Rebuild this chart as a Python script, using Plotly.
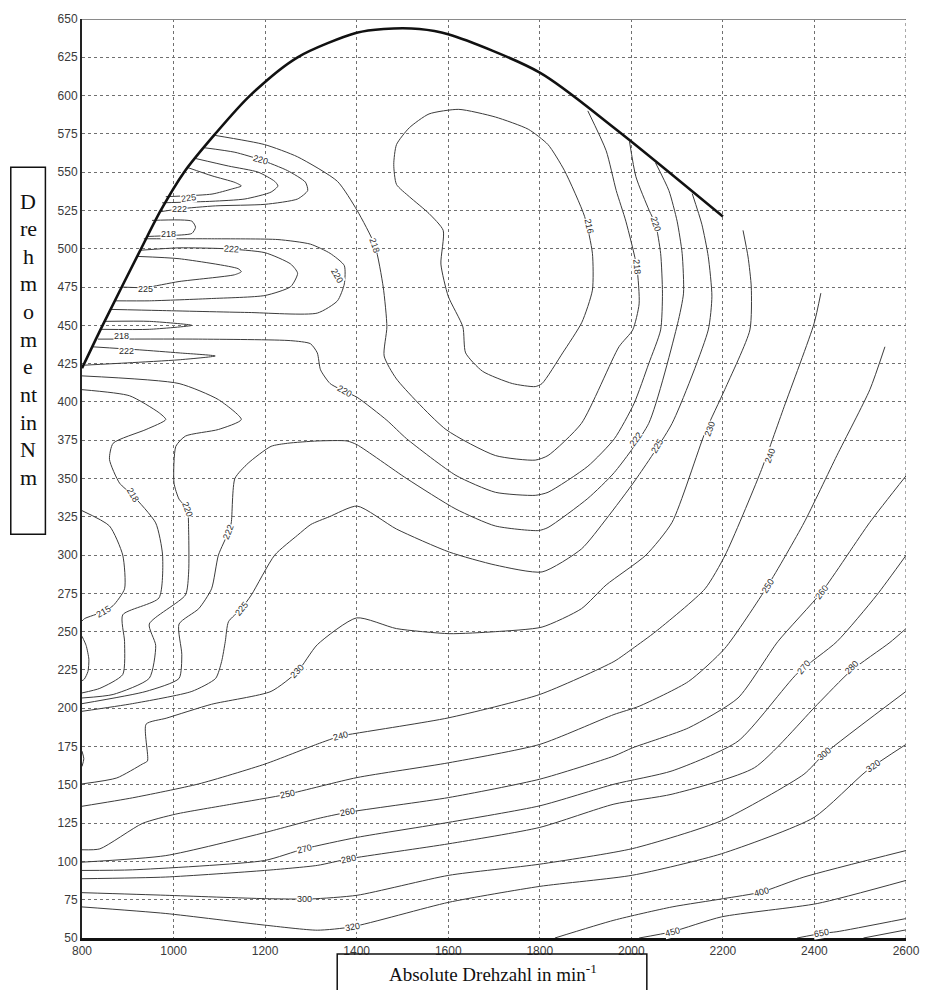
import plotly.graph_objects as go

# ---------------------------------------------------------------- axes data
speed_ticks = [800, 1000, 1200, 1400, 1600, 1800, 2000, 2200, 2400, 2600]
torque_ticks = list(range(50, 651, 25))

# ---------------------------------------------------------------- full-load torque curve
full_load_rpm = [800, 845, 929, 972, 1023, 1091, 1167, 1271, 1400, 1459, 1537, 1600, 1800, 1962, 2200]
full_load_nm = [422, 450, 500, 525, 550, 575, 600, 625, 641, 643.5, 643.5, 640, 615, 579, 521]

# ---------------------------------------------------------------- BSFC iso-lines (g/kWh)
bsfc216_rpm = [1623, 1558, 1515, 1487, 1481, 1487, 1515, 1558, 1589, 1584, 1600, 1632, 1638, 1675, 1740,
               1790, 1805, 1850, 1892, 1915, 1915, 1898, 1854, 1818, 1775, 1703, 1623]
bsfc216_nm = [591, 588, 579, 568, 555, 542, 534, 523, 512, 490, 469, 449, 432, 420, 412,
              410, 412, 432, 452, 473, 497, 521, 551, 568, 578, 586, 591]

bsfc218_rpm = [1091, 1199, 1271, 1358, 1401, 1440, 1458, 1466, 1460, 1487, 1595, 1703, 1790, 1818, 1891,
               1973, 2003, 2017, 2012, 1988, 1967, 1945, 1905]
bsfc218_nm = [574, 568, 560, 544, 525, 502, 475, 449, 430, 415, 382, 365, 362, 365, 386,
              436, 447, 464, 488, 518, 538, 564, 590]

bsfc220_rpm = [835, 1055, 1256, 1299, 1314, 1321, 1342, 1373, 1401, 1466, 1509, 1617, 1703, 1790, 1818,
               1905, 1963, 2006, 2038, 2064, 2068, 2064, 2053, 2039, 2010, 1996]
bsfc220_nm = [441, 441, 440, 438, 432, 421, 412, 407, 403, 388, 376, 352, 341, 339, 341,
              358, 376, 399, 425, 447, 471, 497, 516, 525, 547, 570]

bsfc222_rpm = [800, 940, 1012, 1018, 1012, 1055, 1083, 1098, 1120, 1126, 1134, 1163, 1213, 1249, 1314,
               1379, 1401, 1509, 1617, 1703, 1797, 1818, 1905, 1963, 2038, 2101, 2114, 2111, 2100, 2082, 2053]
bsfc222_nm = [203, 211, 219.5, 235, 255, 265, 278, 300, 315, 321, 350, 360, 371, 373, 374.5,
              374.5, 372, 350, 330, 319, 316, 318, 337, 354, 386, 451, 471, 497, 518, 538, 556]

bsfc225_rpm = [800, 910, 1040, 1092, 1105, 1113, 1120, 1148, 1170, 1221, 1271, 1300, 1340, 1401, 1487,
               1602, 1703, 1805, 1891, 1945, 2010, 2089, 2168, 2176, 2168, 2154, 2133]
bsfc225_nm = [198, 203, 211, 219.5, 230.5, 243.5, 256.5, 265, 274, 300, 313, 320, 325, 332, 317,
              302, 293.5, 289, 304, 323.5, 349.5, 386, 447, 469, 495, 516, 536]

bsfc230_rpm = [800, 876, 932, 943, 940, 984, 1083, 1213, 1271, 1314, 1400, 1487, 1602, 1703, 1805,
               1891, 1945, 2032, 2089, 2161, 2204, 2259, 2262, 2255, 2244]
bsfc230_nm = [150.6, 154.5, 163.6, 165.6, 189.6, 193.5, 202.6, 211, 224, 241.5, 259, 252, 248.7, 250, 253,
              265, 280.5, 300, 321.4, 380, 408, 447, 475, 494.6, 512]

bsfc240_rpm = [800, 910, 1055, 1200, 1314, 1364, 1400, 1600, 1800, 1962, 2003, 2053, 2161, 2205, 2282,
               2334, 2399, 2414]
bsfc240_nm = [136, 141.5, 150.6, 163.6, 176.6, 181.8, 183.7, 193.7, 209, 230.5, 239, 250, 278, 300, 354,
              397, 451, 471]

bsfc250_rpm = [800, 839, 932, 1005, 1127, 1249, 1400, 1601, 1800, 1962, 2017, 2125, 2204, 2298, 2377,
               2449, 2521, 2554]
bsfc250_nm = [107.6, 108.2, 124.8, 130.9, 137.4, 143.9, 154.7, 164.4, 176.4, 195.9, 201.3, 217.5, 239, 280, 321,
              365, 408, 436]

bsfc260_rpm = [800, 983, 1199, 1314, 1379, 1601, 1800, 1962, 2003, 2125, 2233, 2320, 2416, 2521, 2600]
bsfc260_nm = [99.5, 103.8, 118.8, 127.9, 132, 141.7, 153.7, 168.8, 174.2, 187.2, 206.7, 243.5, 276, 321.4, 351.7]

bsfc270_rpm = [800, 910, 1199, 1285, 1401, 1601, 1800, 1962, 2089, 2233, 2363, 2449, 2536, 2600]
bsfc270_nm = [94.1, 94.5, 100.6, 108.2, 115.7, 125.5, 136.3, 150.4, 159.1, 178.5, 222.9, 243.5, 273.8, 299.8]

bsfc280_rpm = [800, 983, 1199, 1314, 1383, 1601, 1800, 1962, 2089, 2269, 2406, 2478, 2565, 2600]
bsfc280_nm = [88.7, 89.8, 94.1, 97.4, 101.7, 111.5, 122.2, 137.4, 143.9, 161.2, 202.4, 224, 243, 252]

bsfc300_rpm = [800, 983, 1199, 1300, 1401, 1601, 1800, 2003, 2197, 2377, 2421, 2600]
bsfc300_nm = [79.6, 77.9, 75.7, 75.5, 77.9, 90.9, 98.2, 108.4, 126.6, 156.9, 170, 211]

bsfc320_rpm = [800, 983, 1199, 1314, 1390, 1601, 1800, 2003, 2197, 2399, 2514, 2600]
bsfc320_nm = [70.3, 66, 58.4, 55.1, 57.3, 73.3, 83.7, 91, 105, 128.7, 159.1, 176.4]

bsfc400_rpm = [1833, 1962, 2089, 2201, 2284, 2377, 2600]
bsfc400_nm = [50, 61.6, 70.3, 75.7, 80, 89.8, 107.1]

bsfc450_rpm = [2017, 2089, 2197, 2406, 2600]
bsfc450_nm = [50, 54.1, 63.8, 72.5, 87.6]

bsfc650_rpm = [2362, 2416, 2449, 2600]
bsfc650_nm = [50, 53, 54.1, 62.7]

bsfc_corner_rpm = [2507, 2600]
bsfc_corner_nm = [50, 55.3]

# low-speed islands near the full-load curve and the left edge
left215_rpm = [800, 860, 889, 893, 868, 846, 806, 800]
left215_nm = [329, 319, 300, 278, 267, 263, 258.6, 257]

left212_rpm = [800, 809, 815, 813, 805, 800]
left212_nm = [247, 241, 232, 224, 219, 218]

left210_rpm = [800, 804, 800]
left210_nm = [172, 167, 162]

left218_rpm = [800, 904, 968, 983, 940, 868, 860, 882, 911, 961, 976, 968, 889, 893, 889, 839, 800]
left218_nm = [408, 404, 393, 388.5, 382, 373, 362.5, 347, 339, 321, 300, 272, 261, 243.5, 222, 213, 210]

left220_rpm = [800, 1012, 1098, 1148, 1098, 1026, 1005, 1001, 1012, 1030, 1033, 1033, 1026, 947, 961, 947, 868, 800]
left220_nm = [417, 412, 401.5, 388.5, 382, 377.7, 371, 347, 336.5, 330, 315, 289, 274, 255, 241, 219.6, 209, 206.7]

lobe222_low_rpm = [822, 925, 1012, 1091, 1012, 900, 806]
lobe222_low_nm = [436, 434, 432, 430, 427.5, 425.5, 424]

lobe_tip_rpm = [850, 947, 1040, 947, 841]
lobe_tip_nm = [452.6, 452.6, 450, 447.4, 447.4]

lobe225_mid_rpm = [921, 1012, 1141, 1148, 1133, 1012, 938, 887]
lobe225_mid_nm = [495, 493.5, 487, 485, 483, 478.6, 474.7, 475]

lobe222_mid_rpm = [927, 1012, 1113, 1200, 1256, 1271, 1256, 1200, 1083, 947, 871]
lobe222_mid_nm = [499, 500.6, 500, 497.4, 490, 484, 475.3, 469.5, 467.5, 466, 466]

lobe220_mid_rpm = [935, 1083, 1228, 1299, 1342, 1373, 1373, 1358, 1314, 1163, 968, 862]
lobe220_mid_nm = [506.5, 506.5, 506, 503, 497, 489, 477, 466, 458, 458.4, 459.7, 460.4]

lobe218_rpm = [953, 1040, 1048, 1040, 990, 940]
lobe218_nm = [518.5, 518, 514, 510, 508.6, 508]

lobe225_up_rpm = [1031, 1084, 1134, 1148, 1127, 1084, 983]
lobe225_up_nm = [553, 547.6, 543.3, 541, 539, 535.7, 534]

lobe222_up_rpm = [1047, 1120, 1185, 1221, 1228, 1213, 1156, 1084, 975]
lobe222_up_nm = [559, 554, 550, 544, 541, 537, 532.5, 531, 530]

lobe220_up_rpm = [1066, 1134, 1191, 1249, 1288, 1293, 1271, 1200, 1092, 1012, 968]
lobe220_up_nm = [566, 563, 558, 551, 543.5, 538, 532.5, 529, 528, 526, 524]

# ---------------------------------------------------------------- iso-line value labels
label_text = ["216", "218", "218", "220", "220", "222", "225", "230", "240", "250", "260", "270", "280",
              "300", "320", "400", "450", "650", "240", "250", "260", "270", "280", "300", "320", "230",
              "225", "222", "220", "218", "215", "218", "222", "225", "222", "220", "218", "225", "220", "222"]
label_rpm = [1908, 1440, 2012, 2053, 1373, 2010, 2057, 2172, 2302, 2298, 2416, 2377, 2482,
             2421, 2529, 2284, 2089, 2416, 1364, 1249, 1379, 1285, 1383, 1285, 1390, 1271,
             1148, 1120, 1030, 911, 846, 886, 897, 938, 1126, 1357, 990, 1033, 1191, 1012]
label_nm = [515, 502, 488, 516, 407, 376, 371, 382, 365, 280, 276, 227, 227,
            170, 162, 80, 54, 53, 182, 144, 132, 108, 101.7, 75.7, 57.3, 224,
            265, 315, 330, 339, 263, 442.8, 433, 474, 500, 482, 509.7, 533, 558, 525.7]

# ---------------------------------------------------------------- figure
fig = go.Figure()

iso_lines = [
    (bsfc216_rpm, bsfc216_nm), (bsfc218_rpm, bsfc218_nm), (bsfc220_rpm, bsfc220_nm),
    (bsfc222_rpm, bsfc222_nm), (bsfc225_rpm, bsfc225_nm), (bsfc230_rpm, bsfc230_nm),
    (bsfc240_rpm, bsfc240_nm), (bsfc250_rpm, bsfc250_nm), (bsfc260_rpm, bsfc260_nm),
    (bsfc270_rpm, bsfc270_nm), (bsfc280_rpm, bsfc280_nm), (bsfc300_rpm, bsfc300_nm),
    (bsfc320_rpm, bsfc320_nm), (bsfc400_rpm, bsfc400_nm), (bsfc450_rpm, bsfc450_nm),
    (bsfc650_rpm, bsfc650_nm), (bsfc_corner_rpm, bsfc_corner_nm),
    (left215_rpm, left215_nm), (left212_rpm, left212_nm), (left210_rpm, left210_nm),
    (left218_rpm, left218_nm), (left220_rpm, left220_nm),
    (lobe222_low_rpm, lobe222_low_nm), (lobe_tip_rpm, lobe_tip_nm),
    (lobe225_mid_rpm, lobe225_mid_nm), (lobe222_mid_rpm, lobe222_mid_nm), (lobe220_mid_rpm, lobe220_mid_nm),
    (lobe218_rpm, lobe218_nm), (lobe225_up_rpm, lobe225_up_nm), (lobe222_up_rpm, lobe222_up_nm),
    (lobe220_up_rpm, lobe220_up_nm),
]
for rpm, nm in iso_lines:
    fig.add_trace(go.Scatter(
        x=rpm, y=nm, mode="lines",
        line=dict(color="#3c3c3c", width=1, shape="spline", smoothing=0.6),
        hoverinfo="skip", showlegend=False))

fig.add_trace(go.Scatter(
    x=full_load_rpm, y=full_load_nm, mode="lines",
    line=dict(color="#111111", width=2.6, shape="spline", smoothing=0.8),
    hoverinfo="skip", showlegend=False))

# label orientation follows the local direction of each iso-line
label_angle = [78, 71, 85, 70, 30, -54, -60, -70, -70, -58, -52, -50, -45,
               -40, -35, -15, -15, -10, -15, -12, -10, -14, -12, 0, -10, -45,
               -50, -68, 70, 60, -30, 0, 0, 0, 3, 60, 0, -8, 15, 0]
for txt, xr, yn, ang in zip(label_text, label_rpm, label_nm, label_angle):
    fig.add_annotation(
        x=xr, y=yn, xref="x", yref="y", text=txt, showarrow=False, textangle=ang,
        xanchor="center", yanchor="middle",
        font=dict(family="Liberation Sans, Arial, sans-serif", size=9, color="#2a2a2a"),
        bgcolor="white", borderpad=0)

# plot-area geometry in pixels (used for the boxed axis titles)
L, T, W, H = 82, 14, 833, 924


def px_x(px):
    return (px - L) / W


def px_y(py):
    return 1 - (py - T) / H


grid = dict(showgrid=True, gridcolor="#707070", gridwidth=1, griddash="dot", zeroline=False,
            ticks="", tickfont=dict(family="Liberation Sans, Arial, sans-serif", size=12, color="#3a3a3a"))

fig.update_xaxes(range=[800, 2600], tickvals=speed_ticks, showline=True, linecolor="#111111",
                 linewidth=2.6, **grid)
fig.update_yaxes(range=[50, 650], tickvals=torque_ticks, showline=True, linecolor="#222222",
                 linewidth=2, **grid)

# frame: grey top edge, dotted right edge
fig.add_shape(type="line", xref="x", yref="y", x0=800, x1=2600, y0=650, y1=650,
              line=dict(color="#8a8a8a", width=2))
fig.add_shape(type="line", xref="x", yref="y", x0=2600, x1=2600, y0=50, y1=650,
              line=dict(color="#707070", width=1.2, dash="dot"))

# boxed y-axis title, one text row per line
fig.add_shape(type="rect", xref="paper", yref="paper",
              x0=px_x(10), x1=px_x(45), y0=px_y(532), y1=px_y(163),
              line=dict(color="#111111", width=1.5))
y_title_rows = ["D", "re", "h", "m", "o", "m", "e", "nt", "in", "N", "m"]
for i, row in enumerate(y_title_rows):
    fig.add_annotation(x=px_x(27.5), y=px_y(197 + i * 27.8), xref="paper", yref="paper",
                       xanchor="center", yanchor="middle",
                       text=row, showarrow=False,
                       font=dict(family="Liberation Serif, Times New Roman, serif", size=22, color="#111111"))

# boxed x-axis title
fig.add_shape(type="rect", xref="paper", yref="paper",
              x0=px_x(340), x1=px_x(653), y0=px_y(992), y1=px_y(954),
              line=dict(color="#111111", width=1.5))
fig.add_annotation(x=px_x(497), y=px_y(973), xref="paper", yref="paper",
                   xanchor="center", yanchor="middle",
                   text="Absolute Drehzahl in min<sup>-1</sup>", showarrow=False,
                   font=dict(family="Liberation Serif, Times New Roman, serif", size=19, color="#111111"))

fig.update_layout(
    width=932, height=990,
    margin=dict(l=L, r=932 - L - W, t=T, b=990 - T - H),
    plot_bgcolor="white", paper_bgcolor="white",
    showlegend=False, hovermode=False,
)

fig.write_html("out.html")
